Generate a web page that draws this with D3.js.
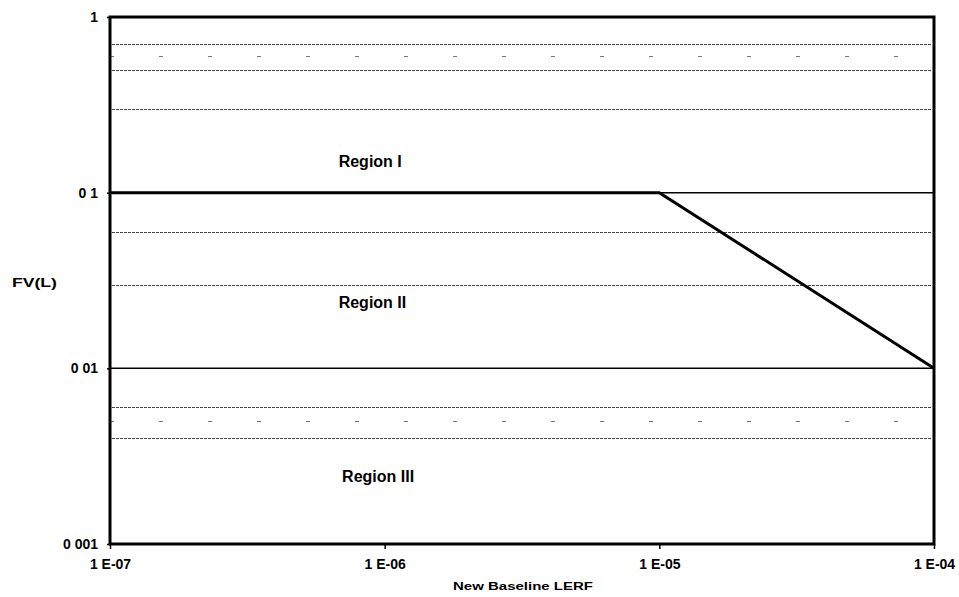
<!DOCTYPE html>
<html>
<head>
<meta charset="utf-8">
<script src="https://cdn.jsdelivr.net/npm/d3@7"></script>
<style>
  body { margin: 0; background: #fff; }
  svg { display: block; font-family: "Liberation Sans", Arial, sans-serif; }
</style>
</head>
<body>
<svg width="959" height="597"></svg>
<script>
// axis ticks and labels (as printed in the scanned figure)
var xTicks = [1e-7, 1e-6, 1e-5, 1e-4];
var xTickLabels = ["1 E-07", "1 E-06", "1 E-05", "1 E-04"];
var yTicks = [1, 0.1, 0.01, 0.001];
var yTickLabels = ["1", "0 1", "0 01", "0 001"];

// region boundary (bold line)
var boundaryX = [1e-7, 1e-5, 1e-4];
var boundaryY = [0.1, 0.1, 0.01];

// horizontal grid lines
var majorGrid = [0.1, 0.01];
var minorGrid = [0.7, 0.5, 0.3, 0.06, 0.03, 0.006, 0.004];
var faintGrid = [0.6, 0.005];

// region labels, anchored in data units (left x, baseline y)
var regionNames = ["Region I", "Region II", "Region III"];
var regionX = [6.8e-7, 6.8e-7, 7.0e-7];
var regionY = [0.14, 0.0221, 0.00226];

var svg = d3.select("svg"),
    margin = {top: 17, right: 25, bottom: 53, left: 110},
    width = +svg.attr("width") - margin.left - margin.right,
    height = +svg.attr("height") - margin.top - margin.bottom;

var g = svg.append("g").attr("transform", "translate(" + margin.left + "," + margin.top + ")");

var x = d3.scaleLog().domain([1e-7, 1e-4]).range([0, width]);
var y = d3.scaleLog().domain([0.001, 1]).range([height, 0]);

// snap to pixel centre so thin lines stay crisp
function py(d) { return Math.round(y(d)) + 0.5; }

// minor grid lines (dotted dark grey, like the scan)
g.selectAll(".minor").data(minorGrid).enter().append("line")
    .attr("x1", 2).attr("x2", width - 2)
    .attr("y1", py).attr("y2", py)
    .attr("stroke", "#444").attr("stroke-width", 1)
    .attr("stroke-dasharray", "3,1");

g.selectAll(".faint").data(faintGrid).enter().append("line")
    .attr("x1", 0).attr("x2", width)
    .attr("y1", py).attr("y2", py)
    .attr("stroke", "#777").attr("stroke-width", 1)
    .attr("stroke-dasharray", "4,45");

// major grid lines
g.selectAll(".major").data(majorGrid).enter().append("line")
    .attr("x1", 0).attr("x2", width)
    .attr("y1", function(d) { return y(d); })
    .attr("y2", function(d) { return y(d); })
    .attr("stroke", "#000").attr("stroke-width", 1.5);

// boundary line
var line = d3.line()
    .x(function(d) { return x(d[0]); })
    .y(function(d) { return y(d[1]); });

g.append("path")
    .datum(d3.zip(boundaryX, boundaryY))
    .attr("d", line)
    .attr("fill", "none")
    .attr("stroke", "#000")
    .attr("stroke-width", 3);

// axes
var xAxis = g.append("g")
    .attr("transform", "translate(0," + height + ")")
    .call(d3.axisBottom(x).tickValues(xTicks)
        .tickFormat(function(d, i) { return xTickLabels[i]; })
        .tickSize(5).tickSizeOuter(0).tickPadding(10));

var yAxis = g.append("g")
    .call(d3.axisLeft(y).tickValues(yTicks)
        .tickFormat(function(d, i) { return yTickLabels[i]; })
        .tickSize(3).tickSizeOuter(0).tickPadding(9));

[xAxis, yAxis].forEach(function(a) {
  a.select(".domain").remove();
  a.selectAll("line").attr("stroke", "#000").attr("stroke-width", 1.5);
  a.selectAll("text")
    .attr("font-family", "Liberation Sans, Arial, sans-serif")
    .attr("font-size", 14).attr("font-weight", "bold").attr("fill", "#000");
});

// frame
g.append("rect")
    .attr("width", width).attr("height", height)
    .attr("fill", "none").attr("stroke", "#000").attr("stroke-width", 3);

// region labels
g.selectAll(".region").data(regionNames).enter().append("text")
    .attr("x", function(d, i) { return x(regionX[i]); })
    .attr("y", function(d, i) { return y(regionY[i]); })
    .attr("font-size", 16).attr("font-weight", "bold")
    .text(function(d) { return d; });

// axis titles
svg.append("text")
    .attr("x", 12).attr("y", 287)
    .attr("font-size", 13).attr("font-weight", "bold")
    .attr("textLength", 45).attr("lengthAdjust", "spacingAndGlyphs")
    .text("FV(L)");

svg.append("text")
    .attr("x", 453).attr("y", 590)
    .attr("font-size", 11).attr("font-weight", "bold")
    .attr("textLength", 140).attr("lengthAdjust", "spacingAndGlyphs")
    .text("New Baseline LERF");
</script>
</body>
</html>
